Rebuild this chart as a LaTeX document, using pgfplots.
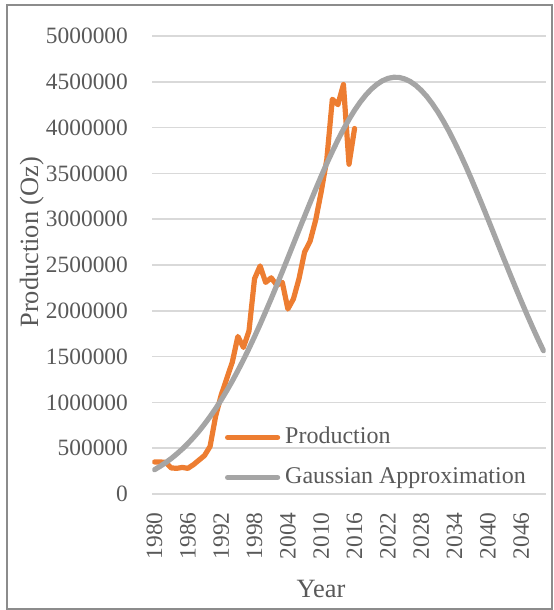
\documentclass[border=0pt]{standalone}
\usepackage{fontspec}
\setmainfont{Liberation Serif}
\usepackage{pgfplots}
\usepackage{pgfplotstable}
\pgfplotsset{compat=1.18}
\definecolor{prodc}{HTML}{ED7D31}
\definecolor{gaussc}{HTML}{A5A5A5}
\definecolor{gridc}{HTML}{D9D9D9}
\definecolor{txtc}{HTML}{595959}
\definecolor{framec}{HTML}{8C8C8C}

\pgfplotstableread{
year value
1980 350000
1981 350000
1982 345000
1983 285000
1984 280000
1985 290000
1986 280000
1987 320000
1988 370000
1989 420000
1990 520000
1991 850000
1992 1080000
1993 1260000
1994 1440000
1995 1720000
1996 1600000
1997 1780000
1998 2350000
1999 2490000
2000 2310000
2001 2360000
2002 2280000
2003 2310000
2004 2020000
2005 2130000
2006 2350000
2007 2640000
2008 2760000
2009 2990000
2010 3300000
2011 3650000
2012 4310000
2013 4250000
2014 4470000
2015 3600000
2016 3990000
}\prodtable

\pgfplotstableread{
year value
1980 265000
1981 302000
1982 342000
1983 387000
1984 437000
1985 491000
1986 551000
1987 616000
1988 686000
1989 763000
1990 845000
1991 933000
1992 1027000
1993 1128000
1994 1234000
1995 1347000
1996 1465000
1997 1589000
1998 1718000
1999 1852000
2000 1991000
2001 2133000
2002 2279000
2003 2428000
2004 2578000
2005 2730000
2006 2881000
2007 3032000
2008 3181000
2009 3327000
2010 3470000
2011 3608000
2012 3739000
2013 3865000
2014 3982000
2015 4090000
2016 4189000
2017 4277000
2018 4354000
2019 4419000
2020 4471000
2021 4511000
2022 4537000
2023 4549000
2024 4548000
2025 4532000
2026 4504000
2027 4462000
2028 4407000
2029 4340000
2030 4260000
2031 4170000
2032 4069000
2033 3959000
2034 3840000
2035 3714000
2036 3581000
2037 3442000
2038 3298000
2039 3151000
2040 3002000
2041 2851000
2042 2699000
2043 2548000
2044 2398000
2045 2250000
2046 2105000
2047 1963000
2048 1825000
2049 1692000
2050 1564000
}\gausstable

\begin{document}
\begin{tikzpicture}
\useasboundingbox (-76.15pt,-58pt) rectangle (200.35pt,247pt);
\draw[framec, line width=1pt] (-72.65pt,-57.5pt) rectangle (199.85pt,244.5pt);
\begin{axis}[
  scale only axis,
  width=196.7pt, height=229pt,
  xmin=1979.6, xmax=2050.4,
  ymin=0, ymax=5000000,
  axis line style={draw=none},
  axis x line*=bottom,
  axis y line*=left,
  xtick={1980,1986,...,2046},
  ytick={0,500000,...,5000000},
  scaled y ticks=false,
  scaled x ticks=false,
  x tick label style={/pgf/number format/1000 sep={}},
  y tick label style={/pgf/number format/fixed, /pgf/number format/1000 sep={}},
  /pgf/number format/assume math mode=true,
  major tick length=0pt,
  tick style={draw=none},
  ymajorgrids,
  grid style={gridc, line width=0.75pt},
  ticklabel style={font=\fontsize{11.7}{13}\selectfont, text=txtc},
  xticklabel style={rotate=90, anchor=east, inner sep=0pt},
  xticklabel shift=9pt,
  yticklabel style={anchor=east, inner sep=0pt},
  yticklabel shift=12pt,
  xlabel={Year},
  ylabel={Production (Oz)},
  every axis x label/.style={at={(axis description cs:0.429,-0.2066)}, anchor=center,
    font=\fontsize{13.2}{15}\selectfont, text=txtc},
  every axis y label/.style={at={(axis description cs:-0.3066,0.55)}, rotate=90, anchor=center,
    font=\fontsize{13.2}{15}\selectfont, text=txtc},
  legend style={at={(axis description cs:0.1848,0.1474)}, anchor=north west,
    draw=none, fill=none, inner sep=0pt, outer sep=0pt,
    font=\fontsize{12}{14}\selectfont, text=txtc,
    nodes={inner sep=0pt, text height=8.5pt, text depth=2.5pt},
    row sep=9pt, column sep=2.5pt},
  legend cell align=left,
  legend image code/.code={\draw[#1] (1.25pt,0pt) -- (26.25pt,0pt);},
  every axis plot/.append style={line width=2.6pt, line join=round, line cap=round},
]
\addplot[prodc, no markers] table[x=year, y=value] {\prodtable};
\addlegendentry{Production}
\addplot[gaussc, no markers] table[x=year, y=value] {\gausstable};
\addlegendentry{Gaussian Approximation}
\draw[gridc, line width=0.75pt] (rel axis cs:0,0) -- (rel axis cs:1,0);
\end{axis}
\end{tikzpicture}
\end{document}
